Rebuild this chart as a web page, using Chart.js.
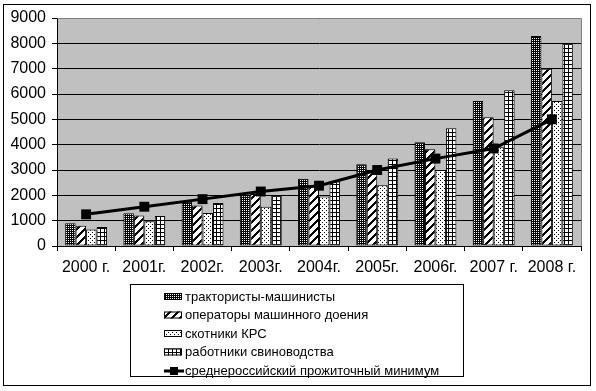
<!DOCTYPE html>
<html>
<head>
<meta charset="utf-8">
<script src="https://cdn.jsdelivr.net/npm/chart.js@4.4.1/dist/chart.umd.min.js"></script>
<style>
  html, body { margin: 0; padding: 0; background: #fff; }
</style>
</head>
<body>
<canvas id="chart" width="596" height="391"></canvas>
<script>
const years = ['2000 г.', '2001г.', '2002г.', '2003г.', '2004г.', '2005г.', '2006г.', '2007 г.', '2008 г.'];
const tractorDrivers = [900, 1290, 1750, 2000, 2650, 3230, 4100, 5720, 8290];
const milkingOperators = [800, 1200, 1600, 2050, 2400, 2900, 3820, 5080, 7000];
const cattleWorkers = [650, 980, 1300, 1550, 1950, 2400, 3000, 3900, 5720];
const pigWorkers = [750, 1180, 1700, 2000, 2550, 3450, 4650, 6150, 8000];
const livingMinimum = [1250, 1550, 1850, 2150, 2380, 3000, 3450, 3850, 5000];
const yMax = 9000;
const yStep = 1000;

const FONT = 'Liberation Sans, Arial, sans-serif';

// small bitmap fills like the old Excel patterns
function makePattern(size, isBlack) {
  const c = document.createElement('canvas');
  c.width = size; c.height = size;
  const g = c.getContext('2d');
  g.fillStyle = '#fff';
  g.fillRect(0, 0, size, size);
  g.fillStyle = '#000';
  for (let x = 0; x < size; x++) {
    for (let y = 0; y < size; y++) {
      if (isBlack(x, y)) g.fillRect(x, y, 1, 1);
    }
  }
  return document.createElement('canvas').getContext('2d').createPattern(c, 'repeat');
}

const denseFill = makePattern(2, (x, y) => !(x === 0 && y === 0));
const stripeFill = makePattern(8, (x, y) => (x + y) % 8 < 3);
const dotFill = makePattern(4, (x, y) => (x === 0 && y === 0) || (x === 2 && y === 2));
const gridFill = makePattern(4, (x, y) => x === 0 || y === 0);

const frame = {
  id: 'frame',
  beforeDraw(chart) {
    const a = chart.chartArea;
    const ctx = chart.ctx;
    ctx.save();
    ctx.fillStyle = '#c0c0c0';
    ctx.fillRect(a.left, a.top, a.right - a.left, a.bottom - a.top);
    ctx.restore();
  },
  afterDraw(chart) {
    const a = chart.chartArea;
    const ctx = chart.ctx;
    ctx.save();
    // plot border top/right
    ctx.strokeStyle = '#808080';
    ctx.lineWidth = 1;
    ctx.beginPath();
    ctx.moveTo(Math.round(a.left) + 0.5, Math.round(a.top) + 0.5);
    ctx.lineTo(Math.round(a.right) + 0.5, Math.round(a.top) + 0.5);
    ctx.lineTo(Math.round(a.right) + 0.5, Math.round(a.bottom));
    ctx.stroke();

    // outer border
    ctx.strokeStyle = '#000';
    ctx.strokeRect(3.5, 4.5, 587, 381);

    // legend
    ctx.strokeRect(130.5, 284.5, 333, 92);
    ctx.font = '13px ' + FONT;
    ctx.textBaseline = 'middle';
    ctx.fillStyle = '#000';
    const rows = [297, 315.5, 334, 352.5, 371];
    const order = [1, 2, 3, 4, 0];
    order.forEach((di, i) => {
      const ds = chart.data.datasets[di];
      const y = rows[i];
      if (ds.type === 'line') {
        ctx.fillStyle = '#000';
        ctx.fillRect(164, y - 1.5, 20, 3);
        ctx.fillRect(170, y - 4, 8, 8);
      } else {
        ctx.fillStyle = ds.backgroundColor;
        ctx.fillRect(164, y - 4, 18, 7);
        ctx.strokeStyle = '#000';
        ctx.strokeRect(164.5, y - 3.5, 17, 6);
      }
      ctx.fillStyle = '#000';
      ctx.fillText(ds.label, 185, y);
    });
    ctx.restore();
  }
};

const barStyle = {
  borderColor: '#000',
  borderWidth: 1,
  borderSkipped: false,
  barPercentage: 1,
  categoryPercentage: 0.72,
  order: 1
};

new Chart(document.getElementById('chart'), {
  data: {
    labels: years,
    datasets: [
      {
        type: 'line',
        label: 'среднероссийский прожиточный минимум',
        data: livingMinimum,
        borderColor: '#000',
        backgroundColor: '#000',
        borderWidth: 3,
        pointStyle: 'rect',
        pointRadius: 7,
        pointBorderWidth: 0,
        tension: 0,
        order: 0
      },
      Object.assign({ type: 'bar', label: 'трактористы-машинисты', data: tractorDrivers, backgroundColor: denseFill }, barStyle),
      Object.assign({ type: 'bar', label: 'операторы машинного доения', data: milkingOperators, backgroundColor: stripeFill }, barStyle),
      Object.assign({ type: 'bar', label: 'скотники КРС', data: cattleWorkers, backgroundColor: dotFill }, barStyle),
      Object.assign({ type: 'bar', label: 'работники свиноводства', data: pigWorkers, backgroundColor: gridFill }, barStyle)
    ]
  },
  options: {
    responsive: false,
    animation: false,
    layout: { padding: { left: 0, top: 18, right: 15, bottom: 115 } },
    plugins: { legend: { display: false }, tooltip: { enabled: false } },
    scales: {
      x: {
        ticks: { color: '#000', font: { family: FONT, size: 16 }, padding: 7, maxRotation: 0, autoSkip: false },
        grid: { offset: true, drawOnChartArea: false, tickLength: 5, color: '#000' },
        border: { color: '#000' },
        afterFit(s) { s.height = 30; }
      },
      y: {
        min: 0,
        max: yMax,
        ticks: { stepSize: yStep, color: '#000', font: { family: FONT, size: 16 }, padding: 6, callback: v => String(v) },
        grid: { color: '#000', tickLength: 5 },
        border: { color: '#000' },
        afterFit(s) { s.width = 57; }
      }
    }
  },
  plugins: [frame]
});
</script>
</body>
</html>
